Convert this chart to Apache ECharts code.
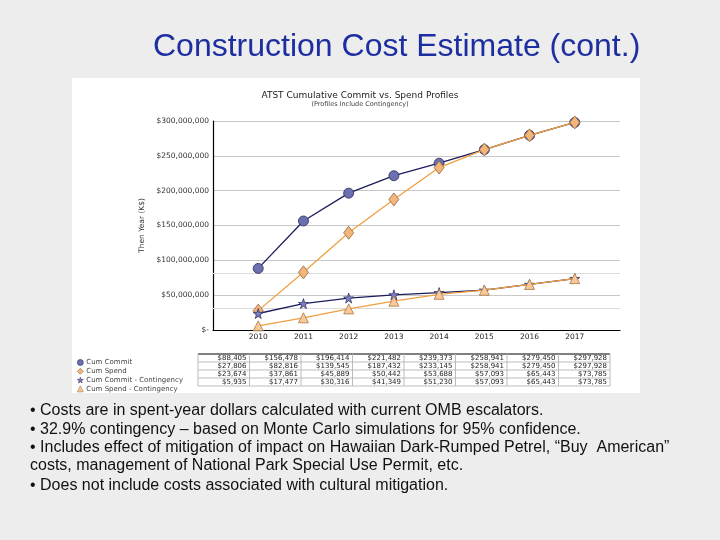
<!DOCTYPE html>
<html>
<head>
<meta charset="utf-8">
<script src="https://cdn.jsdelivr.net/npm/echarts@6/dist/echarts.min.js"></script>
<style>
html,body{margin:0;padding:0;background:#ededed;}
#c{width:720px;height:540px;}
</style>
</head>
<body>
<div id="c"></div>
<script>
var years = [2010, 2011, 2012, 2013, 2014, 2015, 2016, 2017];
var seriesNames = ['Cum Commit', 'Cum Spend', 'Cum Commit - Contingency', 'Cum Spend - Contingency'];
var cumCommit = [88405, 156478, 196414, 221482, 239373, 258941, 279450, 297928];
var cumSpend = [27806, 82816, 139545, 187432, 233145, 258941, 279450, 297928];
var commitCont = [23674, 37861, 45889, 50442, 53688, 57093, 65443, 73785];
var spendCont = [5935, 17477, 30316, 41349, 51230, 57093, 65443, 73785];
var extraLines = [81000, 31500];
var bullets = [
  '\u2022 Costs are in spent-year dollars calculated with current OMB escalators.',
  '\u2022 32.9% contingency \u2013 based on Monte Carlo simulations for 95% confidence.',
  '\u2022 Includes effect of mitigation of impact on Hawaiian Dark-Rumped Petrel, \u201cBuy  American\u201d',
  'costs, management of National Park Special Use Permit, etc.',
  '\u2022 Does not include costs associated with cultural mitigation.'
];

var starPath = 'path://M50,0 L61,35 L98,35 L68,57 L79,91 L50,70 L21,91 L32,57 L2,35 L39,35 Z';
var allSeries = [cumCommit, cumSpend, commitCont, spendCont];
var styles = [
  {line: '#1c1c5c', fill: '#6b70b0', border: '#2a2a58', symbol: 'circle', size: 10, z: 3},
  {line: '#f0a040', fill: '#f5b47a', border: '#8a6a40', symbol: 'diamond', size: [10, 13], z: 4},
  {line: '#1c1c5c', fill: '#7a80c0', border: '#343468', symbol: starPath, size: 10, z: 5},
  {line: '#f0a040', fill: '#f8c898', border: '#a87a48', symbol: 'triangle', size: 10, z: 6}
];

function fmt(v) {
  return '$' + v.toString().replace(/\B(?=(\d{3})+(?!\d))/g, ',');
}

var chart = echarts.init(document.getElementById('c'));

var graphics = [];
graphics.push({type: 'rect', z: -10, shape: {x: 72, y: 78, width: 568, height: 315}, style: {fill: '#ffffff'}});
graphics.push({type: 'text', x: 153, y: 47, style: {text: 'Construction Cost Estimate (cont.)', font: '32px "Liberation Sans", Arial, sans-serif', fill: '#1c2ea0', textVerticalAlign: 'middle'}});
graphics.push({type: 'text', x: 360, y: 96, style: {text: 'ATST Cumulative Commit vs. Spend Profiles', font: '9px "DejaVu Sans", sans-serif', fill: '#222', textAlign: 'center', textVerticalAlign: 'middle'}});
graphics.push({type: 'text', x: 360, y: 104.5, style: {text: '(Profiles Include Contingency)', font: '6.5px "DejaVu Sans", sans-serif', fill: '#444', textAlign: 'center', textVerticalAlign: 'middle'}});

var tx0 = 198, colW = 51.5, ty0 = 354, rowH = 8;
for (var r = 0; r <= 4; r++) {
  graphics.push({type: 'line', shape: {x1: tx0, y1: ty0 + r * rowH, x2: tx0 + colW * years.length, y2: ty0 + r * rowH},
    style: {stroke: r === 0 ? '#555' : '#bbb', lineWidth: r === 0 ? 1.5 : 1}});
}
for (var c = 0; c <= years.length; c++) {
  graphics.push({type: 'line', shape: {x1: tx0 + c * colW, y1: ty0, x2: tx0 + c * colW, y2: ty0 + 4 * rowH},
    style: {stroke: '#bbb', lineWidth: 1}});
}
allSeries.forEach(function (arr, r) {
  arr.forEach(function (v, c) {
    graphics.push({type: 'text', x: tx0 + (c + 1) * colW - 3, y: ty0 + r * rowH + rowH / 2,
      style: {text: fmt(v), font: '7px "DejaVu Sans", sans-serif', fill: '#222', textAlign: 'right', textVerticalAlign: 'middle'}});
  });
});

var by = [411, 430, 448, 466, 486];
bullets.forEach(function (t, i) {
  graphics.push({type: 'text', x: 30, y: by[i], style: {text: t, font: '16px "Liberation Sans", Arial, sans-serif', fill: '#111', textVerticalAlign: 'middle'}});
});

var series = allSeries.map(function (arr, i) {
  var s = {
    name: seriesNames[i],
    type: 'line',
    data: arr.map(function (v, k) { return [years[k], v]; }),
    symbol: styles[i].symbol,
    symbolSize: styles[i].size,
    showAllSymbol: true,
    lineStyle: {color: styles[i].line, width: 1.3},
    itemStyle: {color: styles[i].fill, borderColor: styles[i].border, borderWidth: 0.8},
    emphasis: {disabled: true},
    animation: false,
    z: styles[i].z
  };
  if (i === 0) {
    s.markLine = {
      silent: true, symbol: 'none', label: {show: false}, animation: false, z: 1,
      lineStyle: {color: '#dcdcdc', type: 'solid', width: 1},
      data: extraLines.map(function (v) { return {yAxis: v}; })
    };
  }
  return s;
});

chart.setOption({
  animation: false,
  backgroundColor: 'transparent',
  graphic: graphics,
  legend: {
    orient: 'vertical',
    left: 72,
    top: 354,
    itemWidth: 6,
    itemHeight: 6,
    itemGap: 1.8,
    textStyle: {fontSize: 7, color: '#444', fontFamily: 'DejaVu Sans', padding: [0, 0, 0, -2]},
    data: seriesNames.map(function (n, i) {
      return {name: n, icon: styles[i].symbol,
        itemStyle: {color: styles[i].fill, borderColor: styles[i].border, borderWidth: 0.6}};
    }),
    selectedMode: false
  },
  grid: {left: 213, right: 100, top: 121, bottom: 210, containLabel: false},
  xAxis: {
    type: 'value',
    min: 2009,
    max: 2018,
    interval: 1,
    axisLine: {lineStyle: {color: '#000', width: 1.2}},
    axisTick: {show: false},
    splitLine: {show: false},
    axisLabel: {
      fontSize: 7.5, color: '#222', fontFamily: 'DejaVu Sans', margin: 3,
      formatter: function (v) { return (v >= 2010 && v <= 2017) ? String(v) : ''; }
    }
  },
  yAxis: {
    type: 'value',
    min: 0,
    max: 300000,
    interval: 50000,
    name: 'Then Year (K$)',
    nameLocation: 'middle',
    nameGap: 58,
    nameTextStyle: {fontSize: 7.5, color: '#333', fontFamily: 'DejaVu Sans'},
    axisLine: {show: true, lineStyle: {color: '#000', width: 1.2}},
    axisTick: {show: false},
    splitLine: {lineStyle: {color: '#c8c8c8', width: 1}},
    axisLabel: {
      fontSize: 7.5, color: '#333', fontFamily: 'DejaVu Sans', margin: 4,
      formatter: function (v) { return v === 0 ? '$-' : fmt(v * 1000); }
    }
  },
  series: series
});
</script>
</body>
</html>
